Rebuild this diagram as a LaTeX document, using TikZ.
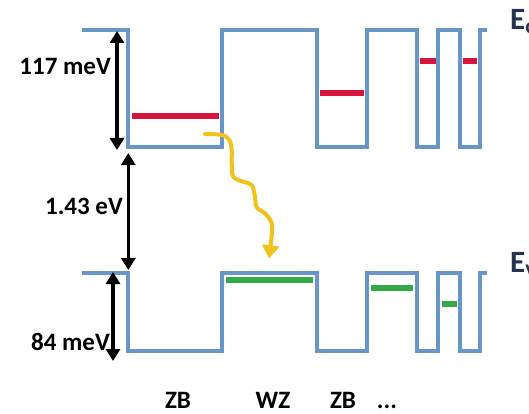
\documentclass[tikz,border=0pt]{standalone}
\usepackage{fontspec}
\setmainfont{Carlito}
\usetikzlibrary{arrows.meta}
\definecolor{bandblue}{RGB}{104,151,199}
\definecolor{levred}{RGB}{214,20,60}
\definecolor{levgreen}{RGB}{52,170,70}
\definecolor{photon}{RGB}{242,194,26}
\definecolor{elabel}{RGB}{38,50,82}
\begin{document}
\begin{tikzpicture}[x=1pt,y=-1pt,
  band/.style={draw=bandblue,line width=4pt,line join=miter},
  redlev/.style={draw=levred,line width=6pt},
  greenlev/.style={draw=levgreen,line width=6pt},
  dimarrow/.style={draw=black,line width=3.5pt,{Triangle[width=14pt,length=12pt]}-{Triangle[width=14pt,length=12pt]}},
  lbl/.style={font=\fontsize{25}{30}\selectfont\bfseries,inner sep=0pt,text=black},
  elbl/.style={font=\fontsize{31}{36}\selectfont\bfseries,inner sep=0pt,text=elabel,anchor=base west}]
\useasboundingbox (0,0) rectangle (529,414);
\clip (0,0) rectangle (529,414);
% conduction band
\draw[band] (82,30.3) -- (128.3,30.3) -- (128.3,146.7) -- (221.7,146.7) -- (221.7,30.3)
  -- (317,30.3) -- (317,146.7) -- (367,146.7) -- (367,30.3) -- (417,30.3) -- (417,146.7)
  -- (438,146.7) -- (438,30.3) -- (460,30.3) -- (460,146.7) -- (480,146.7) -- (480,30.3) -- (487,30.3);
% valence band
\draw[band] (82,272.7) -- (128.3,272.7) -- (128.3,351) -- (221.7,351) -- (221.7,272.7)
  -- (317,272.7) -- (317,351) -- (367,351) -- (367,272.7) -- (417,272.7) -- (417,351)
  -- (438,351) -- (438,272.7) -- (460,272.7) -- (460,351) -- (480,351) -- (480,272.7) -- (487,272.7);
% electron levels
\draw[redlev] (131.7,116.3) -- (219.3,116.3);
\draw[redlev] (320,92.7) -- (364,92.7);
\draw[redlev] (420,60.7) -- (436,60.7);
\draw[redlev] (463,60.7) -- (477,60.7);
% hole levels
\draw[greenlev] (226,280) -- (313,280);
\draw[greenlev] (371,288) -- (413,288);
\draw[greenlev] (441.7,304.4) -- (457,304.4);
% dimension arrows
\coordinate (a1t) at (117,31); \coordinate (a1b) at (117,150);
\coordinate (a2t) at (128.3,153); \coordinate (a2b) at (128.3,270);
\coordinate (a3t) at (113,272); \coordinate (a3b) at (113,361);
\draw[dimarrow] (a1t) -- (a1b);
\draw[dimarrow] (a2t) -- (a2b);
\draw[dimarrow] (a3t) -- (a3b);
% photon
\draw[draw=photon,line width=4pt,line cap=round,-{Triangle[width=17pt,length=13pt]}]
  plot[smooth,tension=0.6] coordinates {(205,134) (221.7,135) (229.3,140) (231.7,150) (231.7,163)
  (233.3,176.7) (243,181.7) (251.7,185) (255,196.7) (256.7,207.3) (265,213.3) (271.7,223.3)
  (271.7,235) (269,258.3)};
% labels
\node[lbl,anchor=base east] (l117) at (111,75) {117 meV};
\node[lbl,anchor=base east] (l143) at (123,214.5) {1.43 eV};
\node[lbl,anchor=base east] (l84) at (110,350) {84 meV};
\node[lbl,anchor=base] (zb1) at (178,408) {ZB};
\node[lbl,anchor=base] (wz) at (273,408) {WZ};
\node[lbl,anchor=base] (zb2) at (343,408) {ZB};
\node[lbl,anchor=base] (dots) at (387,408) {...};
\node[elbl] (ec) at (510,30) {E\textsubscript{c}};
\node[elbl] (ev) at (510,272) {E\textsubscript{v}};
\end{tikzpicture}
\end{document}
